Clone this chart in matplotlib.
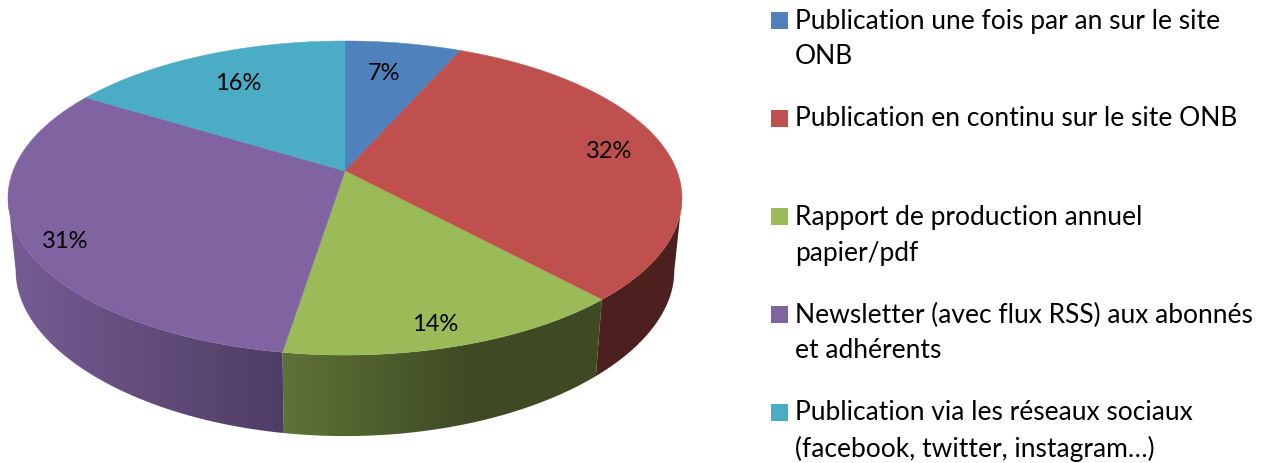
import numpy as np
import matplotlib.pyplot as plt
from matplotlib.colors import to_rgb
from matplotlib.patches import Polygon, Rectangle

plt.rcParams['font.family'] = ['Lato', 'DejaVu Sans']

# slices, clockwise from the top
categories = ["Publication une fois par an sur le site\nONB",
              "Publication en continu sur le site ONB",
              "Rapport de production annuel\npapier/pdf",
              "Newsletter (avec flux RSS) aux abonnés\net adhérents",
              "Publication via les réseaux sociaux\n(facebook, twitter, instagram…)"]
values = [6.6, 31.6, 14.3, 31.3, 16.2]
colors = ["#4F81BD", "#C0504D", "#9BBB59", "#8064A2", "#4BACC6"]

# where each percent label sits: 1 is the rim, turn is in degrees off the middle of the slice
label_r = [0.735, 0.825, 0.89, 0.89, 0.73]
label_turn = [-1.5, 0, 1.6, -4, 0]

# perspective of the pie, in pixels
cx, cy = 345, 171
A, B, k = 332, 152.4, 0.172


def top(ang, r=1.0):
    u = r * np.sin(ang)
    v = r * np.cos(ang)
    s = 1 / (1 + k * v)
    return cx + A * u * s, cy - B * v * s


def bottom(ang):
    x, y = top(ang)
    d = 73 + 8 * ((y - 198) / 157) ** 2
    return cx + (x - cx) * 0.977, y + d


def shade(x):
    # the side gets darker towards the right
    return np.interp(x, [8, 285, 470, 700], [0.92, 0.61, 0.40, 0.40])


fig = plt.figure(figsize=(12.76, 4.63), dpi=100)
ax = fig.add_axes([0, 0, 1, 1])
ax.axis("off")

edges = np.radians(np.cumsum([0] + values) / sum(values) * 360)

# only the front of the rim shows, it runs between the widest points of the top face
full = np.linspace(0, 2 * np.pi, 3601)
right = full[np.argmax(top(full)[0])]
left = full[np.argmin(top(full)[0])]

# sides first
xs = np.arange(0, 700)
for i in range(len(values)):
    a0 = max(edges[i], right)
    a1 = min(edges[i + 1], left)
    if a1 <= a0:
        continue
    ang = np.linspace(a0, a1, 150)
    tx, ty = top(ang)
    bx, by = bottom(ang)
    pts = np.column_stack([np.r_[tx, bx[::-1]], np.r_[ty, by[::-1]]])
    poly = Polygon(pts, closed=True, fc="none", ec="none")
    ax.add_patch(poly)
    grad = shade(xs)[None, :, None] * np.array(to_rgb(colors[i]))
    im = ax.imshow(grad, extent=[0, 700, 463, 0], aspect="auto", zorder=1)
    im.set_clip_path(poly)

ax.set_xlim(0, 1276)
ax.set_ylim(463, 0)

# top faces
for i in range(len(values)):
    ang = np.linspace(edges[i], edges[i + 1], 150)
    tx, ty = top(ang)
    pts = np.column_stack([np.r_[cx, tx], np.r_[cy, ty]])
    ax.add_patch(Polygon(pts, closed=True, fc=colors[i], ec=colors[i], lw=0.3, zorder=2))

    mid = (edges[i] + edges[i + 1]) / 2 + np.radians(label_turn[i])
    lx, ly = top(mid, label_r[i])
    ax.text(lx, ly, f"{values[i]:.0f}%", ha="center", va="center",
            fontsize=17, color="black", zorder=3)

# legend
for i in range(len(categories)):
    y0 = 12 + 98 * i
    ax.add_patch(Rectangle((771, y0), 17, 17, fc=colors[i], ec="none"))
    for j, line in enumerate(categories[i].split("\n")):
        ax.text(795, y0 + 9 + 36 * j, line, ha="left", va="center",
                fontsize=19, color="black")

fig.savefig("out.png", dpi=100)
